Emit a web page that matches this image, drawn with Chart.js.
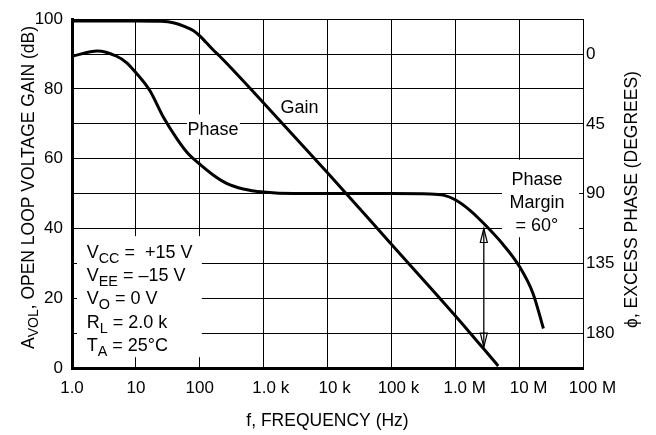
<!DOCTYPE html>
<html>
<head>
<meta charset="utf-8">
<script src="https://cdn.jsdelivr.net/npm/chart.js@4.4.1/dist/chart.umd.min.js"></script>
<style>
  html, body { margin: 0; padding: 0; background: #fff; }
  canvas { display: block; }
</style>
</head>
<body>
<canvas id="chart" width="656" height="435"></canvas>
<script>
// x axis: frequency decades and their labels
const freqTicks = [1, 10, 100, 1e3, 1e4, 1e5, 1e6, 1e7, 1e8];
const freqLabels = ['1.0', '10', '100', '1.0 k', '10 k', '100 k', '1.0 M', '10 M', '100 M'];

// open loop gain (dB)
const gainFreq = [1, 10, 25, 40, 60, 80, 100, 125, 160, 200, 250, 1e3, 1e4, 1e5, 1e6, 4.7e6];
const gainDb = [99.5, 99.5, 99.4, 98.9, 97.8, 96.7, 95.2, 93.4, 91.3, 89.6, 87.8, 76, 56, 35.5, 15, 0.6];

// excess phase (degrees), right axis
const phaseFreq = [1, 2.5, 5, 7.2, 10, 16.6, 27, 44, 66, 100, 160, 263, 480, 1e3, 3e3, 1e5, 4e5, 6.5e5, 1e6, 1.7e6, 2.75e6, 5.6e6, 1e7, 1.66e7, 2.4e7];
const phaseDeg = [1.4, -2, 1.4, 5.6, 12, 23.7, 40.8, 54.7, 64.3, 71, 77.8, 83.4, 87, 89, 90, 90, 90.2, 91, 94, 100.8, 109, 122.8, 136.7, 154.7, 177];

const gainTicks = [0, 10, 20, 30, 40, 50, 60, 70, 80, 90, 100];
const phaseTicks = [0, 45, 90, 135, 180];

// phase margin arrow: frequency, from dB, to dB
const marginArrow = [2.8e6, 40, 6];

// test conditions box text
const conditions = [
  [['V'], ['CC', true], [' =  +15 V']],
  [['V'], ['EE', true], [' = \u201315 V']],
  [['V'], ['O', true], [' = 0 V']],
  [['R'], ['L', true], [' = 2.0 k']],
  [['T'], ['A', true], [' = 25\u00B0C']]
];

const FONT = "'Liberation Sans', Arial, Helvetica, sans-serif";
const SIZE = 18;

function drawRich(ctx, parts, x, y, size) {
  let cx = x;
  for (const p of parts) {
    const sub = p[1] === true;
    ctx.font = (sub ? size * 0.8 : size) + 'px ' + FONT;
    ctx.fillText(p[0], cx, sub ? y + size * 0.28 : y);
    cx += ctx.measureText(p[0]).width;
  }
  return cx - x;
}

function richWidth(ctx, parts, size) {
  let w = 0;
  for (const p of parts) {
    ctx.font = (p[1] === true ? size * 0.8 : size) + 'px ' + FONT;
    w += ctx.measureText(p[0]).width;
  }
  return w;
}

const notes = {
  id: 'notes',
  beforeDatasetsDraw(chart) {
    const { ctx, scales: { x, y } } = chart;
    const px = v => x.getPixelForValue(v);
    const py = v => y.getPixelForValue(v);
    ctx.save();
    // white panels behind the labels hide the grid
    ctx.fillStyle = '#fff';
    const boxes = [
      [1.2, 108, 37.8, 3.1],
      [63, 425, 72.7, 65.6],
      [5.4e6, 8.7e7, 59.7, 37.5]
    ];
    for (const b of boxes) {
      ctx.fillRect(px(b[0]), py(b[2]), px(b[1]) - px(b[0]), py(b[3]) - py(b[2]));
    }
    ctx.fillStyle = '#000';
    ctx.textBaseline = 'alphabetic';
    ctx.font = SIZE + 'px ' + FONT;
    ctx.textAlign = 'center';
    ctx.fillText('Phase', px(161), py(66.8));
    ctx.fillText('Gain', px(3650), py(73.0));
    ctx.fillText('Phase', px(1.9e7), py(52.5));
    ctx.fillText('Margin', px(1.9e7), py(45.8));
    ctx.fillText('= 60\u00B0', px(1.9e7), py(39.2));
    ctx.textAlign = 'left';
    const base = [31.5, 25.0, 18.3, 11.6, 4.8];
    conditions.forEach((line, i) => drawRich(ctx, line, px(1.7), py(base[i]), SIZE));
    ctx.restore();
  },
  afterDatasetsDraw(chart) {
    const { ctx, scales: { x, y } } = chart;
    const ax = x.getPixelForValue(marginArrow[0]);
    const top = y.getPixelForValue(marginArrow[1]);
    const bot = y.getPixelForValue(marginArrow[2]);
    ctx.save();
    ctx.strokeStyle = '#000';
    ctx.lineWidth = 1.3;
    ctx.beginPath();
    ctx.moveTo(ax, top);
    ctx.lineTo(ax, bot);
    ctx.stroke();
    ctx.lineWidth = 1.2;
    ctx.beginPath();
    ctx.moveTo(ax, top);
    ctx.lineTo(ax - 3.5, top + 14);
    ctx.lineTo(ax + 3.5, top + 14);
    ctx.closePath();
    ctx.moveTo(ax, bot);
    ctx.lineTo(ax - 3.5, bot - 14);
    ctx.lineTo(ax + 3.5, bot - 14);
    ctx.closePath();
    ctx.stroke();
    ctx.restore();
  },
  afterDraw(chart) {
    const { ctx, chartArea } = chart;
    ctx.save();
    ctx.fillStyle = '#000';
    ctx.textBaseline = 'alphabetic';
    // x title
    ctx.font = '17.5px ' + FONT;
    ctx.textAlign = 'center';
    ctx.fillText('f, FREQUENCY (Hz)', (chartArea.left + chartArea.right) / 2, 426);
    // left title with subscript
    const leftTitle = [['A'], ['VOL', true], [', OPEN LOOP VOLTAGE GAIN (dB)']];
    const lw = richWidth(ctx, leftTitle, 17.5);
    ctx.save();
    ctx.translate(33.5, 187.5);
    ctx.rotate(-Math.PI / 2);
    ctx.textAlign = 'left';
    drawRich(ctx, leftTitle, -lw / 2, 0, 17.5);
    ctx.restore();
    // right title
    ctx.save();
    ctx.translate(637, 199.5);
    ctx.rotate(-Math.PI / 2);
    ctx.font = '17.5px ' + FONT;
    ctx.textAlign = 'center';
    ctx.fillText('\u03D5, EXCESS PHASE (DEGREES)', 0, 0);
    ctx.restore();
    ctx.restore();
  }
};

const gridStyle = { color: '#000', lineWidth: 1, drawTicks: false };
const tickFont = { family: FONT, size: 17 };

new Chart(document.getElementById('chart'), {
  type: 'line',
  data: {
    datasets: [{
      label: 'Gain',
      data: gainFreq.map((f, i) => ({ x: f, y: gainDb[i] })),
      yAxisID: 'y',
      borderColor: '#000',
      borderWidth: 3,
      pointRadius: 0,
      cubicInterpolationMode: 'monotone',
      fill: false
    }, {
      label: 'Phase',
      data: phaseFreq.map((f, i) => ({ x: f, y: phaseDeg[i] })),
      yAxisID: 'y1',
      borderColor: '#000',
      borderWidth: 3,
      pointRadius: 0,
      cubicInterpolationMode: 'monotone',
      fill: false
    }]
  },
  options: {
    responsive: false,
    animation: false,
    layout: { padding: { top: 16, left: 0, right: 0, bottom: 0 } },
    plugins: { legend: { display: false }, tooltip: { enabled: false } },
    scales: {
      x: {
        type: 'logarithmic',
        min: 1,
        max: 1e8,
        afterBuildTicks: s => { s.ticks = freqTicks.map(v => ({ value: v })); },
        afterFit: s => { s.height = 67; },
        grid: gridStyle,
        border: { color: '#000', width: 3 },
        ticks: {
          color: '#000',
          font: tickFont,
          padding: 10,
          autoSkip: false,
          maxRotation: 0,
          callback: (v, i) => {
            const t = freqLabels[i];
            if (t.endsWith(' M')) return '    ' + t;
            if (t.endsWith(' k')) return '   ' + t;
            return t;
          }
        }
      },
      y: {
        position: 'left',
        min: 0,
        max: 100,
        afterBuildTicks: s => { s.ticks = gainTicks.map(v => ({ value: v })); },
        afterFit: s => { s.width = 72; },
        grid: gridStyle,
        border: { color: '#000', width: 3 },
        ticks: {
          color: '#000',
          font: tickFont,
          padding: 9,
          callback: v => (v % 20 === 0 ? v : '')
        }
      },
      y1: {
        position: 'right',
        reverse: true,
        min: -22.5,
        max: 202.5,
        afterBuildTicks: s => { s.ticks = phaseTicks.map(v => ({ value: v })); },
        afterFit: s => { s.width = 73; },
        grid: { drawOnChartArea: false, drawTicks: false },
        border: { color: '#000', width: 1 },
        ticks: { color: '#000', font: tickFont, padding: 3 }
      }
    }
  },
  plugins: [notes]
});
</script>
</body>
</html>
